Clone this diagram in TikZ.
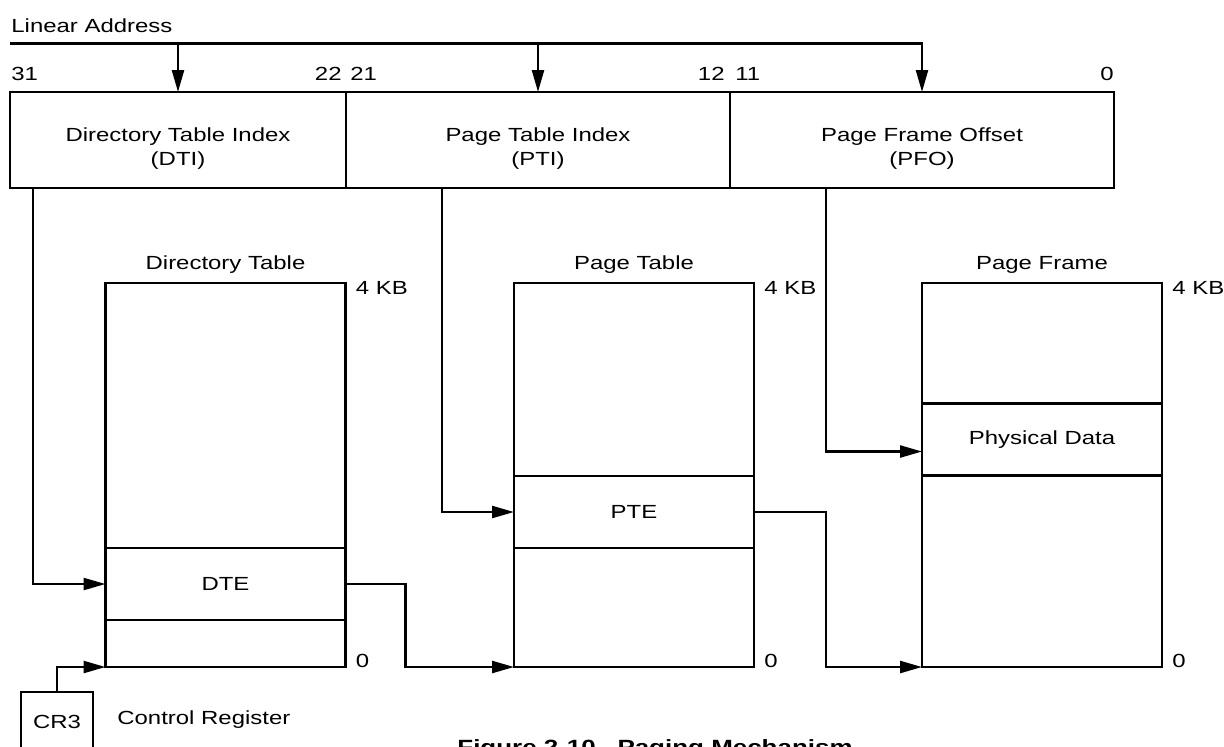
\documentclass[tikz,border=0pt]{standalone}
\usepackage{fontspec}
\setmainfont{Liberation Sans}[FakeStretch=1.26]
\usetikzlibrary{arrows.meta, positioning}
\newcommand{\lblfont}{\fontsize{9.5}{12}\selectfont}
\newcommand{\capfont}{\fontsize{10.3}{12}\selectfont\bfseries}
\tikzset{
  field/.style={rectangle, draw, line width=1.2pt, inner sep=0pt, outer sep=0pt,
    minimum height=48pt},
  memtable/.style={rectangle, draw, line width=1.2pt, inner sep=0pt, outer sep=0pt,
    minimum width=120pt, minimum height=192pt},
  slot/.style={rectangle, draw, line width=1.2pt, inner sep=0pt, outer sep=0pt,
    minimum width=120pt, minimum height=36pt, font=\lblfont},
  regbox/.style={rectangle, draw, line width=1.2pt, inner sep=0pt, outer sep=0pt,
    minimum width=36pt, minimum height=30pt, font=\lblfont},
  lbl/.style={inner sep=0pt, font=\lblfont},
  arrow/.style={-{Triangle[length=11pt, width=6pt]}, line width=1.2pt},
  line/.style={line width=1.2pt}
}

\begin{document}
\begin{tikzpicture}[x=0.5pt, y=-0.5pt]
  \useasboundingbox (0,0) rectangle (1224,746);

  % linear address fields
  \node[field, minimum width=168pt] (dti) at (178,140) {};
  \node[field, minimum width=192pt, right=0pt of dti] (pti) {};
  \node[field, minimum width=192pt, right=0pt of pti] (pfo) {};
  \node[lbl, align=center] at ([yshift=-4.5pt]dti.center) {Directory Table Index\\(DTI)};
  \node[lbl, align=center] at ([yshift=-4.5pt]pti.center) {Page Table Index\\(PTI)};
  \node[lbl, align=center] at ([yshift=-4.5pt]pfo.center) {Page Frame Offset\\(PFO)};

  \node[lbl, anchor=base west] at (11,32) {Linear Address};
  \node[lbl, anchor=base west] at (11,80) {31};
  \node[lbl, anchor=base east] at (342,80) {22};
  \node[lbl, anchor=base west] at (350,80) {21};
  \node[lbl, anchor=base east] at (725,80) {12};
  \node[lbl, anchor=base west] at (735,80) {11};
  \node[lbl, anchor=base east] at (1114,80) {0};

  \coordinate (la) at (10,43.5);
  \draw[arrow] (la) -| (pfo.north);
  \draw[arrow] (dti.north |- la) -- (dti.north);
  \draw[arrow] (pti.north |- la) -- (pti.north);

  % tables
  \node[memtable] (dt) at (225.5,475) {};
  \node[memtable] (pt) at (634,475) {};
  \node[memtable] (pf) at (1042,475) {};
  \node[slot] (dte) at (225.5,584) {DTE};
  \node[slot] (pte) at (634,512) {PTE};
  \node[slot] (pd) at (1042,439.5) {Physical Data};

  \node[lbl, anchor=base] at ([yshift=6.75pt]dt.north) {Directory Table};
  \node[lbl, anchor=base] at ([yshift=6.75pt]pt.north) {Page Table};
  \node[lbl, anchor=base] at ([yshift=6.75pt]pf.north) {Page Frame};
  \node[lbl, anchor=north west] at ([xshift=5pt, yshift=1pt]dt.north east) {4 KB};
  \node[lbl, anchor=north west] at ([xshift=5pt, yshift=1pt]pt.north east) {4 KB};
  \node[lbl, anchor=north west] at ([xshift=5pt, yshift=1pt]pf.north east) {4 KB};
  \node[lbl, anchor=base west] at ([xshift=5pt]dt.south east) {0};
  \node[lbl, anchor=base west] at ([xshift=5pt]pt.south east) {0};
  \node[lbl, anchor=base west] at ([xshift=5pt]pf.south east) {0};

  % index lines
  \draw[arrow] (dti.south west) ++(23,0) |- (dte.west);
  \draw[arrow] (pti.south west) ++(96,0) |- (pte.west);
  \draw[arrow] (pfo.south west) ++(96,0) |- ([yshift=-6pt]pd.west);
  \draw[arrow] (dte.east) -- ++(60,0) |- (pt.south west);
  \draw[arrow] (pte.east) -- ++(72,0) |- (pf.south west);

  % control register
  \node[regbox] (cr3) at (57,722) {CR3};
  \node[lbl, anchor=west] at (117,720) {Control Register};
  \draw[arrow] (cr3.north) |- (dt.south west);

  \node[inner sep=0pt, font=\capfont, anchor=north west] at (457,739)
    {Figure 2-10.\ \ Paging Mechanism};
\end{tikzpicture}
\end{document}
